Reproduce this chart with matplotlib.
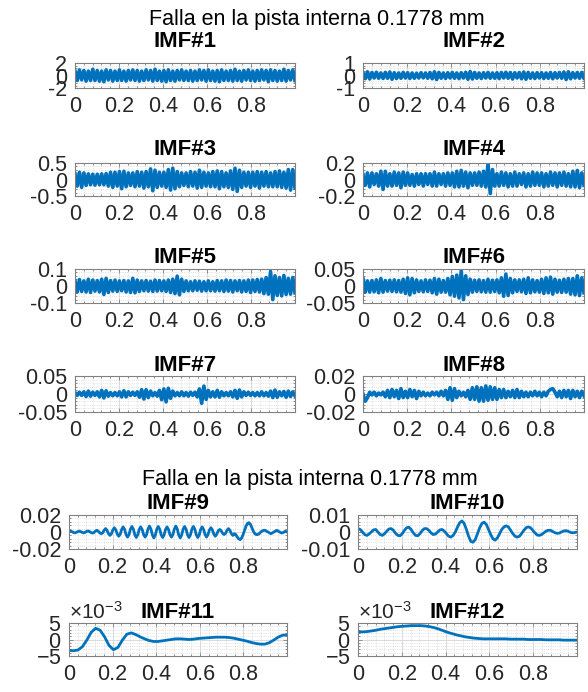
import numpy as np
import matplotlib
matplotlib.use("Agg")
import matplotlib.pyplot as plt
from matplotlib.ticker import AutoMinorLocator, ScalarFormatter

OUTPUT_PATH = "out.png"
W, H = 588, 692

plt.rcParams["font.family"] = ["Liberation Sans", "DejaVu Sans"]
plt.rcParams["axes.unicode_minus"] = False
plt.rcParams["mathtext.fontset"] = "custom"
plt.rcParams["mathtext.rm"] = "Liberation Sans"
plt.rcParams["mathtext.it"] = "Liberation Sans:italic"
plt.rcParams["mathtext.bf"] = "Liberation Sans:bold"

SUPTITLE = "Falla en la pista interna 0.1778 mm"
TITLES = ["IMF#1", "IMF#2", "IMF#3", "IMF#4", "IMF#5", "IMF#6",
          "IMF#7", "IMF#8", "IMF#9", "IMF#10", "IMF#11", "IMF#12"]
XTICKS = [0, 0.2, 0.4, 0.6, 0.8]
XTICK_LABELS = ["0", "0.2", "0.4", "0.6", "0.8"]
Y_LIMITS = [2, 1, 0.5, 0.2, 0.1, 0.05, 0.05, 0.02, 0.02, 0.01, 0.005, 0.005]
Y_TICK_LABELS = [["-2", "0", "2"], ["-1", "0", "1"], ["-0.5", "0", "0.5"],
                 ["-0.2", "0", "0.2"], ["-0.1", "0", "0.1"], ["-0.05", "0", "0.05"],
                 ["-0.05", "0", "0.05"], ["-0.02", "0", "0.02"], ["-0.02", "0", "0.02"],
                 ["-0.01", "0", "0.01"], None, None]

# values (dense IMFs: alternating samples following the envelope)
imf1 = [0.7, -0.8, 0.9, -0.7, 0.8, -0.9, 0.7, -0.8, 1.0, -0.8,
        0.8, -0.9, 0.7, -1.0, 0.9, -0.7, 0.8, -0.9, 0.7, -0.8,
        0.9, -0.8, 0.7, -0.9, 0.8, -0.7, 0.9, -0.8, 0.8, -0.9,
        0.7, -0.8, 0.9, -0.7, 0.8, -0.9, 1.0, -0.8, 0.7, -0.9,
        0.8, -1.0, 0.9, -0.8, 0.7, -0.9, 0.8, -0.7, 0.9, -0.8,
        0.7, -0.8, 0.8, -0.9, 0.7, -0.8, 0.9, -0.7, 0.8, -0.9,
        0.9, -0.8, 0.7, -0.9, 0.8, -1.0, 0.9, -0.8, 0.7, -0.8,
        0.8, -0.9, 1.0, -0.8, 0.7, -0.9, 0.8, -0.7, 0.9, -0.8,
        0.7, -0.9, 0.8, -0.8, 0.9, -0.7, 0.8, -1.0, 0.9, -0.8,
        0.8, -0.9, 0.7, -0.8, 1.0, -0.9, 0.8, -0.7, 0.9, -0.8]
imf2 = [0.22, -0.25, 0.30, -0.28, 0.24, -0.20, 0.26, -0.22, 0.20, -0.24,
        0.25, -0.22, 0.28, -0.30, 0.22, -0.24, 0.20, -0.22, 0.25, -0.20,
        0.22, -0.24, 0.20, -0.22, 0.18, -0.20, 0.22, -0.19, 0.20, -0.22,
        0.24, -0.26, 0.30, -0.32, 0.25, -0.22, 0.20, -0.24, 0.22, -0.20,
        0.24, -0.22, 0.20, -0.25, 0.22, -0.20, 0.26, -0.30, 0.32, -0.28,
        0.24, -0.22, 0.20, -0.24, 0.22, -0.20, 0.25, -0.22, 0.20, -0.22,
        0.22, -0.25, 0.24, -0.20, 0.26, -0.22, 0.24, -0.28, 0.22, -0.20,
        0.24, -0.26, 0.28, -0.30, 0.25, -0.22, 0.20, -0.24, 0.22, -0.20,
        0.22, -0.24, 0.20, -0.22, 0.24, -0.26, 0.22, -0.20, 0.24, -0.22,
        0.28, -0.32, 0.30, -0.26, 0.22, -0.20, 0.24, -0.22, 0.25, -0.22]
imf3 = [0.18, -0.20, 0.22, -0.24, 0.20, -0.18, 0.17, -0.16, 0.16, -0.17,
        0.16, -0.16, 0.17, -0.16, 0.18, -0.20, 0.22, -0.24, 0.22, -0.20,
        0.24, -0.28, 0.25, -0.22, 0.20, -0.18, 0.20, -0.22, 0.24, -0.20,
        0.22, -0.26, 0.24, -0.22, 0.32, -0.34, 0.28, -0.24, 0.22, -0.20,
        0.22, -0.24, 0.30, -0.32, 0.34, -0.28, 0.24, -0.22, 0.20, -0.18,
        0.20, -0.22, 0.24, -0.20, 0.22, -0.26, 0.28, -0.24, 0.22, -0.20,
        0.20, -0.22, 0.24, -0.22, 0.26, -0.28, 0.24, -0.22, 0.20, -0.24,
        0.26, -0.30, 0.34, -0.36, 0.28, -0.24, 0.22, -0.20, 0.22, -0.24,
        0.22, -0.20, 0.24, -0.26, 0.22, -0.20, 0.24, -0.22, 0.20, -0.22,
        0.24, -0.22, 0.26, -0.24, 0.22, -0.26, 0.30, -0.32, 0.30, -0.26]
imf4 = [0.06, -0.07, 0.08, -0.09, 0.08, -0.06, 0.07, -0.08, 0.10, -0.12,
        0.10, -0.08, 0.07, -0.08, 0.09, -0.07, 0.08, -0.10, 0.09, -0.07,
        0.08, -0.07, 0.06, -0.08, 0.07, -0.06, 0.07, -0.08, 0.07, -0.06,
        0.07, -0.08, 0.09, -0.08, 0.07, -0.06, 0.07, -0.08, 0.08, -0.07,
        0.08, -0.09, 0.10, -0.09, 0.11, -0.08, 0.09, -0.10, 0.08, -0.07,
        0.08, -0.07, 0.09, -0.08, 0.10, -0.09, 0.19, -0.17, 0.12, -0.08,
        0.07, -0.08, 0.09, -0.07, 0.08, -0.09, 0.07, -0.08, 0.09, -0.08,
        0.07, -0.06, 0.08, -0.09, 0.07, -0.08, 0.09, -0.07, 0.08, -0.07,
        0.08, -0.09, 0.07, -0.08, 0.09, -0.07, 0.08, -0.09, 0.08, -0.07,
        0.09, -0.08, 0.07, -0.09, 0.10, -0.09, 0.11, -0.10, 0.08, -0.07]
imf5 = [0.030, -0.035, 0.038, -0.032, 0.030, -0.035, 0.040, -0.038, 0.035, -0.030,
        0.032, -0.035, 0.040, -0.050, 0.045, -0.038, 0.032, -0.030, 0.035, -0.032,
        0.030, -0.028, 0.032, -0.035, 0.030, -0.038, 0.045, -0.040, 0.035, -0.032,
        0.030, -0.028, 0.032, -0.030, 0.028, -0.032, 0.035, -0.030, 0.032, -0.028,
        0.030, -0.032, 0.035, -0.038, 0.040, -0.045, 0.058, -0.052, 0.040, -0.032,
        0.030, -0.028, 0.025, -0.028, 0.030, -0.025, 0.028, -0.030, 0.025, -0.028,
        0.030, -0.028, 0.025, -0.030, 0.032, -0.028, 0.030, -0.032, 0.035, -0.030,
        0.032, -0.035, 0.030, -0.028, 0.032, -0.035, 0.030, -0.032, 0.035, -0.038,
        0.035, -0.032, 0.038, -0.035, 0.040, -0.045, 0.050, -0.048, 0.085, -0.080,
        0.060, -0.055, 0.050, -0.058, 0.062, -0.050, 0.045, -0.048, 0.050, -0.040]
imf6 = [0.022, -0.018, 0.015, -0.018, 0.016, -0.017, 0.018, -0.020, 0.022, -0.018,
        0.016, -0.015, 0.017, -0.016, 0.018, -0.017, 0.016, -0.018, 0.020, -0.022,
        0.024, -0.026, 0.022, -0.020, 0.018, -0.016, 0.015, -0.017, 0.018, -0.016,
        0.017, -0.020, 0.022, -0.024, 0.020, -0.018, 0.016, -0.018, 0.022, -0.026,
        0.028, -0.030, 0.032, -0.035, 0.045, -0.040, 0.030, -0.025, 0.020, -0.018,
        0.017, -0.016, 0.018, -0.017, 0.016, -0.018, 0.020, -0.018, 0.017, -0.016,
        0.018, -0.020, 0.024, -0.030, 0.035, -0.028, 0.022, -0.020, 0.018, -0.016,
        0.018, -0.017, 0.020, -0.022, 0.024, -0.020, 0.018, -0.017, 0.016, -0.018,
        0.020, -0.022, 0.024, -0.020, 0.026, -0.024, 0.020, -0.018, 0.017, -0.019,
        0.020, -0.018, 0.022, -0.024, 0.022, -0.026, 0.030, -0.028, 0.024, -0.020]
imf7 = [0.004, -0.004, 0.005, -0.004, 0.006, -0.007, 0.008, -0.006, 0.005, -0.004,
        0.006, -0.008, 0.010, -0.011, 0.009, -0.006, 0.004, -0.005, 0.004, -0.005,
        0.006, -0.008, 0.009, -0.008, 0.006, -0.004, 0.005, -0.004, 0.006, -0.009,
        0.012, -0.014, 0.012, -0.010, 0.008, -0.005, 0.004, -0.006, 0.010, -0.016,
        0.014, -0.022, 0.016, -0.012, 0.008, -0.005, 0.004, -0.005, 0.006, -0.005,
        0.004, -0.006, 0.005, -0.004, 0.005, -0.008, 0.014, -0.026, 0.022, -0.015,
        0.010, -0.008, 0.006, -0.008, 0.010, -0.009, 0.006, -0.005, 0.004, -0.005,
        0.006, -0.008, 0.010, -0.012, 0.011, -0.008, 0.006, -0.004, 0.005, -0.004,
        0.004, -0.005, 0.004, -0.005, 0.006, -0.005, 0.004, -0.006, 0.008, -0.010,
        0.011, -0.009, 0.006, -0.005, 0.007, -0.009, 0.008, -0.007, 0.006, -0.005]
imf8 = [0.000, -0.008, -0.004, 0.002, -0.001, 0.002, -0.002, 0.001, -0.001, 0.002,
        -0.003, 0.004, -0.004, 0.005, -0.003, 0.004, -0.005, 0.006, -0.004, 0.003,
        -0.004, 0.005, -0.003, 0.004, -0.005, 0.003, -0.002, 0.002, -0.002, 0.001,
        -0.002, 0.002, -0.001, 0.002, -0.002, 0.003, -0.002, 0.004, -0.006, 0.007,
        -0.007, 0.006, -0.004, 0.003, -0.002, 0.002, -0.003, 0.004, -0.006, 0.007,
        -0.006, 0.008, -0.008, 0.007, -0.008, 0.009, -0.007, 0.008, -0.006, 0.007,
        -0.006, 0.005, -0.004, 0.005, -0.004, 0.003, -0.003, 0.004, -0.004, 0.005,
        -0.004, 0.003, -0.003, 0.002, -0.003, 0.002, -0.002, 0.003, -0.002, 0.002,
        -0.003, 0.002, -0.002, 0.003, 0.005, 0.006, 0.002, -0.003, 0.003, -0.004,
        0.004, -0.003, 0.004, -0.005, 0.004, -0.003, 0.003, -0.004, 0.003, -0.002]
imf9 = [0.0005, 0.001, 0.0005, -0.0005, -0.001, -0.0005,
        0.0005, 0.001, 0.0005, -0.0005, -0.001, -0.0005,
        0.0007, 0.0012, 0.0007, -0.0007, -0.0012, -0.0007,
        0.001, 0.002, 0.001, -0.001, -0.002, -0.001,
        0.002, 0.004, 0.002, -0.002, -0.004, -0.002,
        0.0025, 0.005, 0.0025, -0.0025, -0.005, -0.0025,
        0.003, 0.006, 0.003, -0.003, -0.006, -0.003,
        0.0033, 0.0065, 0.0033, -0.0033, -0.0065, -0.0033,
        0.003, 0.006, 0.003, -0.003, -0.006, -0.003,
        0.0035, 0.007, 0.0035, -0.0035, -0.007, -0.0035,
        0.0033, 0.0065, 0.0033, -0.0033, -0.0065, -0.0033,
        0.003, 0.006, 0.003, -0.003, -0.006, -0.003,
        0.0035, 0.007, 0.0035, -0.0035, -0.007, -0.0035,
        0.0033, 0.0065, 0.0033, -0.0033, -0.0065, -0.0033,
        0.0033, 0.0065, 0.0033, -0.0033, -0.0065, -0.0033,
        0.003, 0.006, 0.003, -0.003, -0.006, -0.003,
        0.0025, 0.005, 0.0025, -0.0025, -0.005, -0.0025,
        0.0015, 0.003, 0.0015, -0.0015, -0.003, -0.0015,
        0.002, 0.004, 0.002, -0.002, -0.004, -0.002,
        -0.003, -0.006, -0.008, -0.009, -0.007, -0.003, 0.002, 0.007, 0.010, 0.011,
        0.009, 0.005, 0.001, -0.002, -0.003, -0.003, -0.002, 0.000, 0.001, 0.002,
        0.002, 0.001, 0.000, -0.001, -0.002, -0.001, 0.000, 0.001, 0.002, 0.001,
        0.000, -0.001, -0.001, 0.000, 0.001, 0.000]
imf10 = [0.002, 0.0015, 0.0, -0.0015, -0.002, -0.0012, 0.0, 0.0012, 0.0015, 0.0,
         -0.0015, -0.002, -0.001, 0.0005, 0.0018, 0.002, 0.001, -0.0008, -0.002, -0.0022,
         -0.001, 0.001, 0.0025, 0.0028, 0.0015, -0.0005, -0.002, -0.0022, -0.001, 0.0008,
         0.002, 0.002, 0.001, -0.0005, -0.0015, -0.0012, 0.0, 0.0012, 0.0015, 0.0005,
         -0.001, -0.0025, -0.003, -0.002, 0.0, 0.003, 0.0055, 0.0065, 0.005, 0.0015,
         -0.0025, -0.0055, -0.006, -0.0045, -0.001, 0.0025, 0.005, 0.0058, 0.0045, 0.0015,
         -0.0015, -0.004, -0.0048, -0.0035, -0.001, 0.0015, 0.003, 0.0036, 0.003, 0.001,
         -0.001, -0.0025, -0.003, -0.0025, -0.0008, 0.001, 0.0025, 0.003, 0.0025, 0.001,
         -0.0005, -0.0018, -0.002, -0.0015, -0.0005, 0.0005, 0.001, 0.001, 0.0003, -0.0004,
         -0.0008, -0.0006, 0.0, 0.0006, 0.0008, 0.0004, -0.0002, -0.0005, -0.0003, 0.0]
imf11 = [-0.0033, -0.0034, -0.0032, -0.0022, -0.0002, 0.0022, 0.0034, 0.0028, 0.0008, -0.0018,
         -0.0031, -0.0024, -0.0002, 0.0016, 0.0020, 0.0015, 0.0008, 0.0002, -0.0003, -0.0006,
         -0.0006, -0.0004, -0.0002, 0.0000, 0.0002, 0.0002, 0.0001, 0.0000, 0.0001, 0.0003,
         0.0004, 0.0005, 0.0006, 0.0007, 0.0007, 0.0007, 0.0006, 0.0004, 0.0001, -0.0002,
         -0.0005, -0.0009, -0.0012, -0.0014, -0.0014, -0.0010, -0.0002, 0.0007, 0.0013, 0.0014]
imf12 = [0.0023, 0.0023, 0.0024, 0.0026, 0.0028, 0.0031, 0.0033, 0.0035, 0.0037, 0.0039,
         0.0040, 0.0041, 0.0042, 0.0042, 0.0042, 0.0041, 0.0039, 0.0036, 0.0032, 0.0027,
         0.0022, 0.0018, 0.0014, 0.0011, 0.0008, 0.0006, 0.0004, 0.0003, 0.0002, 0.0002,
         0.0002, 0.0002, 0.0002, 0.0002, 0.0001, 0.0001, 0.0001, 0.0001, 0.0000, 0.0000,
         0.0000, 0.0000, -0.0001, -0.0001, -0.0001, -0.0001, -0.0002, -0.0002, -0.0002, -0.0002]

IMFS = [imf1, imf2, imf3, imf4, imf5, imf6, imf7, imf8, imf9, imf10, imf11, imf12]

# axes boxes in pixels: left, top, right, bottom; plus title baseline
BOXES = [(75, 63, 295, 88), (363, 63, 584, 88),
         (75, 163, 295, 196), (363, 163, 584, 196),
         (75, 269, 295, 303), (363, 269, 584, 303),
         (75, 376, 295, 412), (363, 376, 584, 412),
         (69, 515, 287, 549), (358, 515, 577, 549),
         (69, 623, 287, 656), (358, 623, 577, 656)]
TITLE_BASE = [47, 47, 155, 155, 263, 263, 371, 371, 509, 509, 618, 618]

BLUE = "#0072BD"
TEXT = "#262626"
EDGE = "#808080"


def draw_imf(fig, i):
    l, t, r, b = BOXES[i]
    ax = fig.add_axes([l / W, 1 - b / H, (r - l) / W, (b - t) / H])
    values = IMFS[i]
    x = np.linspace(0, 0.9999, len(values))
    lw = 2.6 if i < 8 else 2.0
    ax.plot(x, values, color=BLUE, lw=lw, solid_joinstyle="round")

    lim = Y_LIMITS[i]
    ax.set_xlim(0, 0.9999)
    ax.set_ylim(-lim, lim)
    ax.set_xticks(XTICKS)
    ax.set_xticklabels(XTICK_LABELS)
    ax.set_yticks([-lim, 0, lim])
    if Y_TICK_LABELS[i] is not None:
        ax.set_yticklabels(Y_TICK_LABELS[i])
    else:
        fmt = ScalarFormatter(useMathText=True)
        fmt.set_powerlimits((-2, 2))
        ax.yaxis.set_major_formatter(fmt)
        ax.yaxis.get_offset_text().set_fontsize(15)
        ax.yaxis.get_offset_text().set_color("#404040")

    ax.xaxis.set_minor_locator(AutoMinorLocator(5))
    ax.yaxis.set_minor_locator(AutoMinorLocator(5))
    ax.grid(which="major", color="#d4d4d4", lw=0.6)
    ax.grid(which="minor", color="#cfcfcf", lw=0.5, ls=":")
    ax.set_axisbelow(True)

    ax.tick_params(which="both", direction="in", top=True, right=True,
                   color=EDGE, width=0.6, labelcolor=TEXT)
    ax.tick_params(which="major", length=3, labelsize=15.5, pad=5.5)
    ax.tick_params(which="minor", length=1.5)
    for s in ax.spines.values():
        s.set_color(EDGE)
        s.set_linewidth(0.8)

    fig.text((l + r) / 2 / W, 1 - TITLE_BASE[i] / H, TITLES[i], ha="center",
             va="baseline", fontsize=16, fontweight="bold", color="black")
    return ax


fig = plt.figure(figsize=(W / 100, H / 100), dpi=100)
fig.text(317 / W, 1 - 25 / H, SUPTITLE, ha="center", va="baseline",
         fontsize=15.5, color="black")
fig.text(310 / W, 1 - 485 / H, SUPTITLE, ha="center", va="baseline",
         fontsize=15.5, color="black")

for i in range(len(IMFS)):
    draw_imf(fig, i)

fig.savefig(OUTPUT_PATH, dpi=100, facecolor="white")
plt.close(fig)
